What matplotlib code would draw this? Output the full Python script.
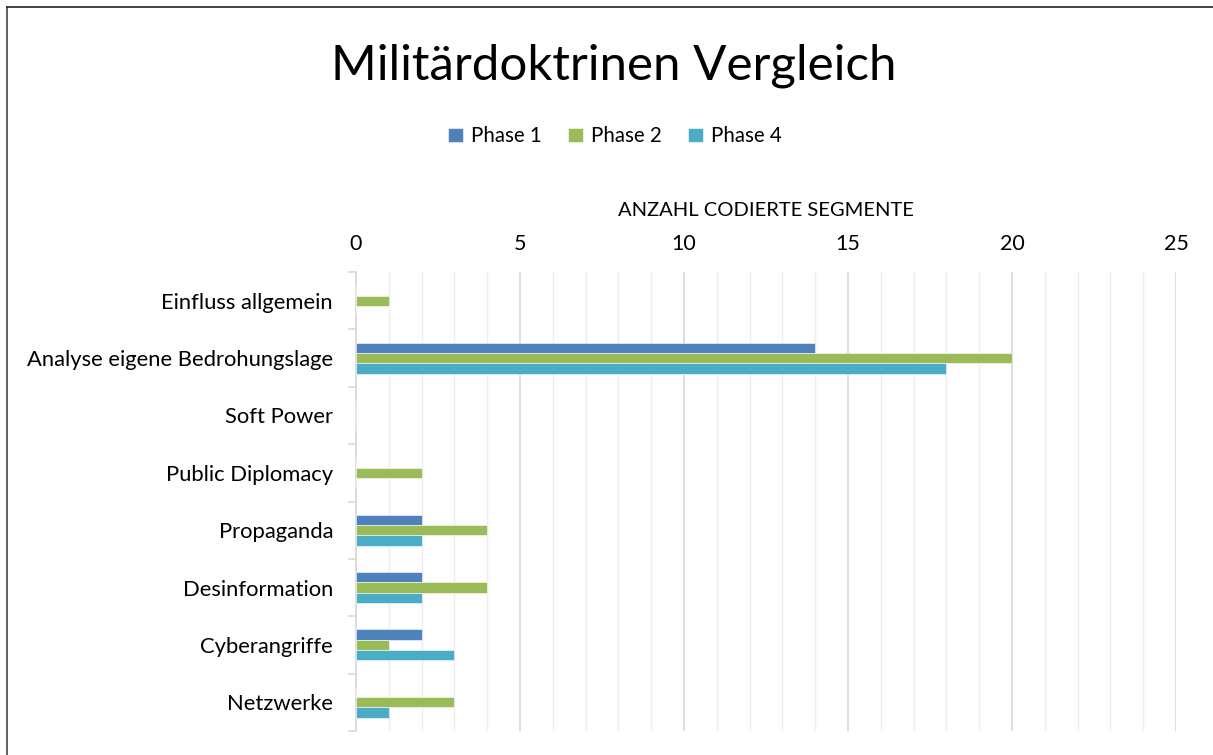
import matplotlib
matplotlib.use('Agg')
import matplotlib.pyplot as plt
import numpy as np
from matplotlib.lines import Line2D

plt.rcParams['font.family'] = ['Lato', 'DejaVu Sans']

# Data
categories = ["Einfluss allgemein", "Analyse eigene Bedrohungslage", "Soft Power",
              "Public Diplomacy", "Propaganda", "Desinformation", "Cyberangriffe", "Netzwerke"]
phase1 = [0, 14, 0, 0, 2, 2, 2, 0]
phase2 = [1, 20, 0, 2, 4, 4, 1, 3]
phase4 = [0, 18, 0, 0, 2, 2, 3, 1]
series_names = ["Phase 1", "Phase 2", "Phase 4"]
colors = ["#4F81BD", "#9BBB59", "#4BACC6"]

fig = plt.figure(figsize=(12.13, 7.55), dpi=100)
ax = fig.add_axes([0.2935, 0.0318, 0.676, 0.6079])

y = np.arange(len(categories))
h = 0.18
for i, (vals, name, col) in enumerate(zip([phase1, phase2, phase4], series_names, colors)):
    ax.barh(y + (i - 1) * h, vals, height=h, color=col, label=name, zorder=3,
            edgecolor='white', linewidth=0.4)

ax.set_ylim(len(categories) - 0.5, -0.5)
ax.set_xlim(0, 25)

# x axis on top
ax.xaxis.tick_top()
ax.xaxis.set_label_position('top')
ax.set_xticks(np.arange(0, 26, 5))
ax.set_xticks(np.arange(0, 26, 1), minor=True)
ax.tick_params(axis='x', which='both', length=0, labelsize=15.5, pad=13)
ax.set_xlabel("ANZAHL CODIERTE SEGMENTE", fontsize=14.5, labelpad=13)
ax.grid(axis='x', which='major', color='#d9d9d9', linewidth=1.2, zorder=0)
ax.grid(axis='x', which='minor', color='#eeeeee', linewidth=1.0, zorder=0)

# y axis
ax.set_yticks(y)
ax.set_yticklabels(categories, fontsize=15.8)
ax.set_yticks(np.arange(-0.5, len(categories)), minor=True)
ax.tick_params(axis='y', which='major', length=0, pad=16.5)
ax.tick_params(axis='y', which='minor', length=6, color='#d9d9d9', width=1.2)

for s in ['top', 'right', 'bottom']:
    ax.spines[s].set_visible(False)
ax.spines['left'].set_color('#d9d9d9')
ax.spines['left'].set_linewidth(1.2)

fig.suptitle("Militärdoktrinen Vergleich", fontsize=35.5, x=0.506, y=0.942)

handles, labels = ax.get_legend_handles_labels()
fig.legend(handles, labels, loc='center', bbox_to_anchor=(0.507, 0.82), ncol=3,
           frameon=False, fontsize=14.8, handlelength=0.7, handleheight=0.7,
           handletextpad=0.4, columnspacing=1.3)

# frame lines of the chart area
fig.add_artist(Line2D([0.0058, 0.0058], [0, 0.991], color='#444444', linewidth=1.2))
fig.add_artist(Line2D([0.0058, 1.0], [0.991, 0.991], color='#222222', linewidth=1.2))

fig.savefig("out.png", dpi=100)
